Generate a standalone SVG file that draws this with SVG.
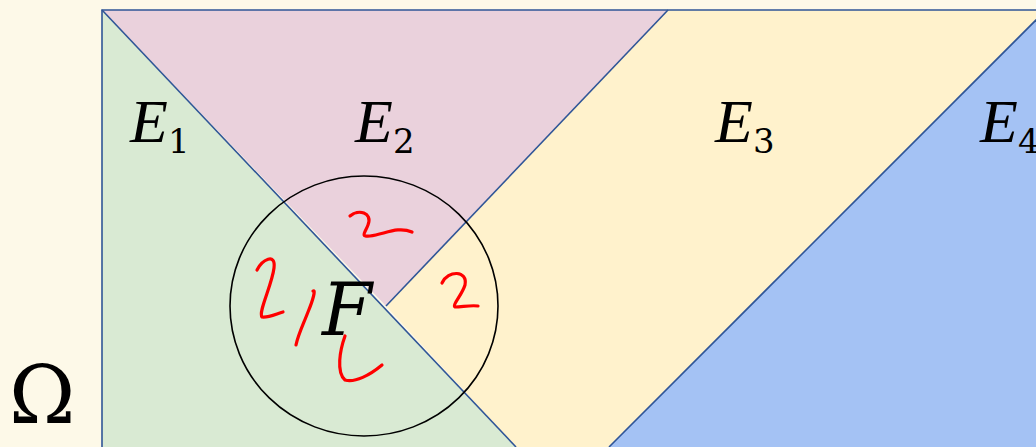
<svg xmlns="http://www.w3.org/2000/svg" width="1036" height="447" viewBox="0 0 1036 447">
<style>
.edge{stroke:#2f5597;stroke-width:1.6;fill:none}
.lbl{font-family:"Liberation Serif",serif;fill:#000}
.it{font-style:italic}
.sub{font-family:"DejaVu Serif",serif;font-size:34px}
.ink{stroke:#ff0000;stroke-width:3.2;fill:none;stroke-linecap:round;stroke-linejoin:round}
</style>
<rect width="1036" height="447" fill="#fdf9e8"/>
<g id="E1"><polygon points="102,10 516,447 102,447" fill="#d9ead3"/>
<text class="lbl" x="130" y="142"><tspan class="it" font-size="62">E</tspan><tspan class="sub" dy="11">1</tspan></text></g>
<g id="E2"><polygon points="102,10 668,10 386,306" fill="#ead1dc"/>
<text class="lbl" x="355" y="142"><tspan class="it" font-size="62">E</tspan><tspan class="sub" dy="11">2</tspan></text></g>
<g id="E3"><polygon points="668,10 1036,10 1036,20 609,447 516,447 386,306" fill="#fff2cc"/>
<text class="lbl" x="715" y="142"><tspan class="it" font-size="62">E</tspan><tspan class="sub" dy="11">3</tspan></text></g>
<g id="E4"><polygon points="1036,20 1036,447 609,447" fill="#a4c2f4"/>
<text class="lbl" x="980" y="142"><tspan class="it" font-size="62">E</tspan><tspan class="sub" dy="11">4</tspan></text></g>
<g id="connectors">
<polyline class="edge" points="102,447 102,10 1036,10" stroke-width="2"/>
<line class="edge" x1="102" y1="10" x2="516" y2="447"/>
<line class="edge" x1="668" y1="10" x2="386" y2="306"/>
<line class="edge" x1="1046" y1="10" x2="609" y2="447"/>
</g>
<g id="F">
<ellipse cx="364" cy="306" rx="134" ry="130" fill="none" stroke="#000" stroke-width="1.6"/>
<text x="322" y="335" font-size="72" font-family="DejaVu Serif, serif" font-style="italic">F</text>
</g>
<g id="ink">
<path class="ink" d="M350,216 C358,209 373,212 368,225 C365,233 360,237 370,236 C385,234 398,226 412,232"/>
<path class="ink" d="M442,283 C448,270 468,270 465,285 C462,295 452,305 455,307 C462,307 470,305 478,306"/>
<path class="ink" d="M257,270 C262,260 276,252 274,268 C272,285 258,312 262,317 C268,318 276,314 283,312"/>
<path class="ink" d="M313,291 C316,289 313,300 308,312 C303,325 298,335 296,345"/>
<path class="ink" d="M345,336 C340,350 336,372 345,380 C355,383 370,375 382,365"/>
</g>
<g id="Omega"><text x="9" y="423" font-size="80" font-family="DejaVu Serif, serif">Ω</text></g>
</svg>
